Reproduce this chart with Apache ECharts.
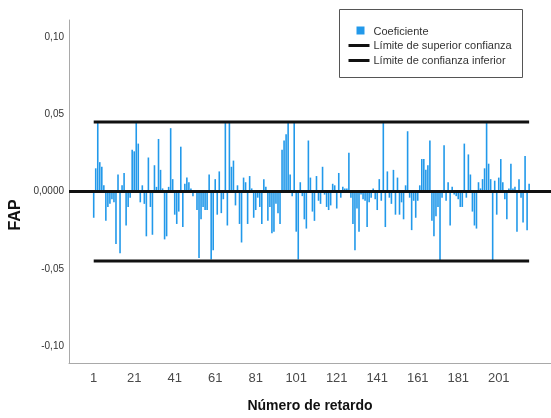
<!DOCTYPE html>
<html>
<head>
<meta charset="utf-8">
<script src="https://cdn.jsdelivr.net/npm/echarts@6/dist/echarts.min.js"></script>
<style>
  html, body { margin: 0; padding: 0; background: #ffffff; }
  #chart { width: 551px; height: 418px; }
</style>
</head>
<body>
<div id="chart"></div>
<script>
// Partial autocorrelation coefficients (FAP) per lag, lags 1..216
const fap = [
  -0.017, 0.015, 0.045, 0.019, 0.016, 0.004, -0.019, -0.010, -0.008, -0.005,
  -0.007, -0.034, 0.011, -0.040, 0.004, 0.012, -0.022, -0.010, -0.004, 0.027,
  0.026, 0.045, 0.031, -0.007, 0.004, -0.008, -0.029, 0.022, -0.010, -0.028,
  0.017, 0.003, 0.034, 0.014, 0.002, -0.031, -0.029, 0.003, 0.041, 0.008,
  -0.015, -0.021, -0.013, 0.029, -0.023, 0.005, 0.009, 0.006, 0.002, -0.003,
  0.001, -0.012, -0.043, -0.018, -0.010, -0.012, -0.012, 0.011, -0.044, -0.038,
  0.008, -0.015, 0.013, -0.014, -0.005, 0.045, -0.022, 0.045, 0.016, 0.020,
  -0.009, 0.004, -0.021, -0.033, 0.009, 0.006, -0.021, 0.010, 0.002, -0.017,
  -0.012, -0.004, -0.010, -0.021, 0.008, 0.003, -0.019, -0.010, -0.027, -0.026,
  -0.008, -0.014, -0.021, 0.027, 0.033, 0.037, 0.045, 0.011, -0.003, 0.045,
  -0.026, -0.044, 0.006, -0.003, -0.018, -0.024, 0.033, 0.009, -0.013, -0.019,
  0.010, -0.006, -0.008, 0.016, -0.002, -0.010, -0.012, -0.009, 0.005, 0.004,
  -0.011, 0.012, -0.004, 0.003, 0.002, 0.002, 0.025, -0.004, -0.021, -0.038,
  -0.011, -0.026, -0.002, -0.005, -0.006, -0.023, -0.007, -0.004, 0.002, -0.005,
  -0.012, 0.008, -0.006, 0.045, -0.023, 0.013, -0.004, -0.008, 0.014, -0.015,
  0.009, -0.015, -0.007, -0.018, 0.004, 0.039, -0.004, -0.025, -0.006, -0.017,
  -0.006, 0.004, 0.021, 0.021, 0.014, 0.017, 0.033, -0.019, -0.029, -0.016,
  -0.010, -0.045, -0.004, 0.030, -0.006, 0.006, -0.022, 0.003, -0.002, -0.003,
  -0.005, -0.010, -0.010, 0.031, -0.004, 0.024, 0.011, -0.013, -0.022, -0.024,
  0.006, 0.002, 0.008, 0.015, 0.045, 0.018, 0.008, -0.045, 0.007, -0.015,
  0.009, 0.021, 0.006, -0.005, -0.018, 0.002, 0.018, 0.002, 0.003, -0.026,
  0.008, -0.004, -0.020, 0.023, -0.025, 0.005
];

// Lag numbers (1-based position of each coefficient)
const lags = fap.map((_, i) => i + 1);

// Confidence limits
const upperLimit = 0.045;
const lowerLimit = -0.045;

// Tick labels
const xTickValues = [1, 21, 41, 61, 81, 101, 121, 141, 161, 181, 201];
const yTickValues = [-0.10, -0.05, 0, 0.05, 0.10];

const barColor = '#2299ea';
const axisGray = '#a9a9a9';
const fontFamily = '"Liberation Sans", Arial, sans-serif';

const firstLag = lags[0];
const lastLag = lags[lags.length - 1];

const chart = echarts.init(document.getElementById('chart'), null, { renderer: 'canvas' });

chart.setOption({
  animation: false,
  backgroundColor: '#ffffff',
  grid: { left: 69, right: 0, top: 20, bottom: 50 },
  xAxis: {
    type: 'value',
    min: -11.2,
    max: 226.8,
    name: 'Número de retardo',
    nameLocation: 'middle',
    nameGap: 36,
    nameTextStyle: { fontFamily, fontSize: 14, fontWeight: 'bold', color: '#111' },
    axisLine: { show: true, onZero: false, lineStyle: { color: axisGray, width: 1 } },
    axisTick: { show: false },
    splitLine: { show: false },
    axisLabel: {
      customValues: xTickValues,
      margin: 9,
      fontFamily, fontSize: 13, color: '#4a4a4a'
    }
  },
  yAxis: {
    type: 'value',
    min: -0.111,
    max: 0.111,
    axisLine: { show: true, onZero: false, lineStyle: { color: axisGray, width: 1 } },
    axisTick: { show: false },
    splitLine: { show: false },
    axisLabel: {
      customValues: yTickValues,
      margin: 5,
      padding: [3, 0, 0, 0],
      fontFamily, fontSize: 10, color: '#333',
      formatter: function (v) {
        if (Math.abs(v) < 1e-9) return '0,0000';
        return v.toFixed(2).replace('.', ',');
      }
    }
  },
  series: [
    {
      name: 'Coeficiente',
      type: 'bar',
      barWidth: 1.6,
      itemStyle: { color: barColor },
      data: lags.map((lag, i) => [lag, fap[i]]),
      markLine: {
        silent: true,
        symbol: 'none',
        label: { show: false },
        lineStyle: { color: '#111', width: 3, type: 'solid' },
        data: [{ yAxis: 0 }]
      },
      z: 2
    },
    {
      name: 'Límite de superior confianza',
      type: 'line',
      symbol: 'none',
      lineStyle: { color: '#111', width: 3 },
      data: [[firstLag, upperLimit], [lastLag, upperLimit]],
      z: 3
    },
    {
      name: 'Límite de confianza inferior',
      type: 'line',
      symbol: 'none',
      lineStyle: { color: '#111', width: 3 },
      data: [[firstLag, lowerLimit], [lastLag, lowerLimit]],
      z: 3
    }
  ],
  graphic: [
    // Y axis title
    {
      type: 'text',
      x: 16,
      y: 215,
      rotation: Math.PI / 2,
      style: {
        text: 'FAP',
        font: 'bold 16px ' + fontFamily,
        fill: '#111',
        align: 'center',
        verticalAlign: 'middle'
      }
    },
    // Legend box
    {
      type: 'group',
      left: 339,
      top: 9,
      children: [
        { type: 'rect', shape: { x: 0, y: 0, width: 183, height: 68 },
          style: { fill: '#fff', stroke: '#555', lineWidth: 1 } },
        { type: 'rect', shape: { x: 17, y: 17, width: 8, height: 8 },
          style: { fill: barColor } },
        { type: 'text', x: 34, y: 22,
          style: { text: 'Coeficiente', font: '11px ' + fontFamily, fill: '#333', verticalAlign: 'middle' } },
        { type: 'line', shape: { x1: 9, y1: 36, x2: 30, y2: 36 },
          style: { stroke: '#111', lineWidth: 3 } },
        { type: 'text', x: 34, y: 36,
          style: { text: 'Límite de superior confianza', font: '11px ' + fontFamily, fill: '#333', verticalAlign: 'middle' } },
        { type: 'line', shape: { x1: 9, y1: 51, x2: 30, y2: 51 },
          style: { stroke: '#111', lineWidth: 3 } },
        { type: 'text', x: 34, y: 51,
          style: { text: 'Límite de confianza inferior', font: '11px ' + fontFamily, fill: '#333', verticalAlign: 'middle' } }
      ]
    }
  ]
});
</script>
</body>
</html>
